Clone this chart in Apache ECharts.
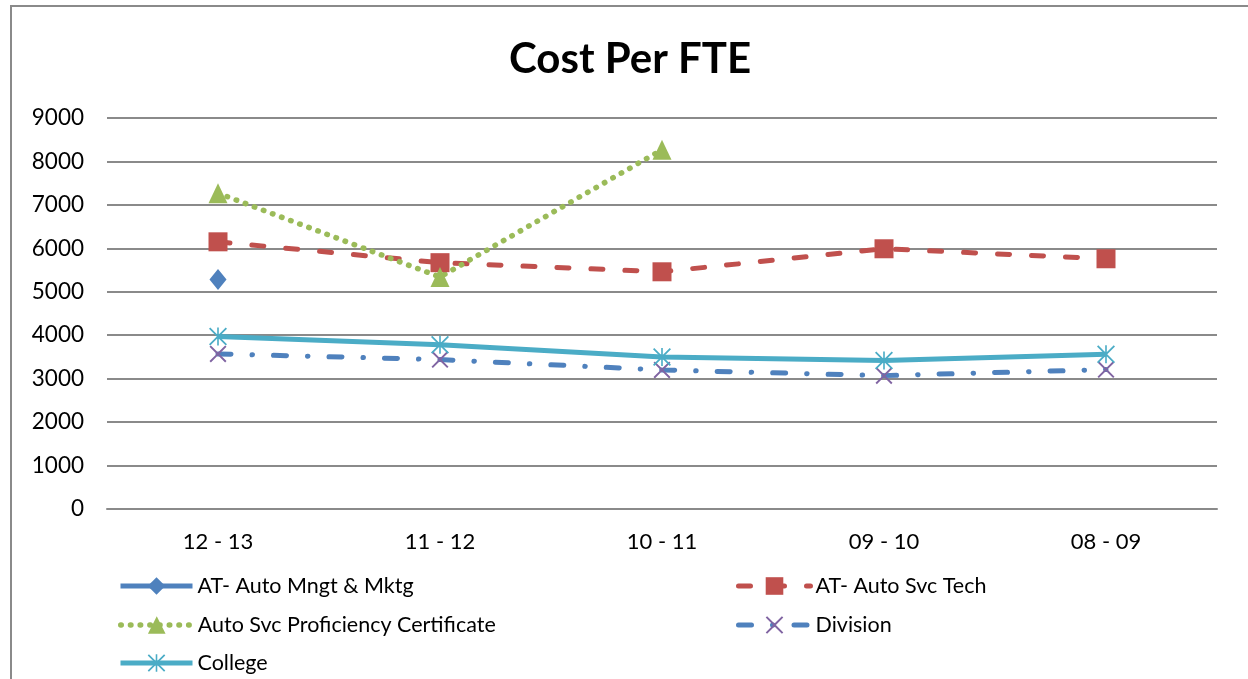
<!DOCTYPE html>
<html>
<head>
<meta charset="utf-8">
<title>Cost Per FTE</title>
<script src="https://cdn.jsdelivr.net/npm/echarts@6/dist/echarts.min.js"></script>
<style>
  html, body { margin: 0; padding: 0; background: #fff; }
  #chart { width: 1248px; height: 679px; }
</style>
</head>
<body>
<div id="chart"></div>
<script>
// data
const categories = ['12 - 13', '11 - 12', '10 - 11', '09 - 10', '08 - 09'];
const mngtMktg = [5280, null, null, null, null];
const svcTech = [6150, 5670, 5460, 5990, 5760];
const proficiency = [7270, 5340, 8270, null, null];
const division = [3570, 3440, 3200, 3070, 3210];
const college = [3970, 3780, 3500, 3420, 3560];
const yMin = 0;
const yMax = 9000;
const yStep = 1000;

const FONT = 'Lato, "Open Sans", sans-serif';

// X cross marker (outline polygon so it fills cleanly)
const crossPath = 'path://M0,0.8 L0.8,0 L5,4.2 L9.2,0 L10,0.8 L5.8,5 L10,9.2 L9.2,10 L5,5.8 L0.8,10 L0,9.2 L4.2,5 Z';
// asterisk marker: X plus vertical bar
const starPath = 'path://M0,0.7 L0.7,0 L5,4.3 L9.3,0 L10,0.7 L5.7,5 L10,9.3 L9.3,10 L5,5.7 L0.7,10 L0,9.3 L4.3,5 Z M4.55,0 L5.45,0 L5.45,10 L4.55,10 Z';

const chart = echarts.init(document.getElementById('chart'));

// one legend per entry so each sits where the original puts it
function legendAt(name, left, top) {
  return {
    left: left,
    top: top,
    padding: 0,
    itemWidth: 72,
    itemHeight: 22,
    lineStyle: { width: 'inherit' },
    textStyle: { fontFamily: FONT, fontSize: 21.5, color: '#000' },
    data: [name]
  };
}

const option = {
  animation: false,
  backgroundColor: '#fff',
  title: {
    text: 'Cost Per FTE',
    left: 504,
    top: 33,
    textStyle: { fontFamily: FONT, fontSize: 42, fontWeight: 'bold', color: '#000' }
  },
  graphic: [
    {
      type: 'rect',
      shape: { x: 11, y: 6, width: 1300, height: 700 },
      style: { fill: 'none', stroke: '#8a8a8a', lineWidth: 2 },
      silent: true
    }
  ],
  legend: [
    legendAt('AT- Auto Mngt & Mktg', 118, 575),
    legendAt('Auto Svc Proficiency Certificate', 118, 614),
    legendAt('College', 118, 652),
    legendAt('AT- Auto Svc Tech', 736, 575),
    legendAt('Division', 736, 614)
  ],
  grid: { left: 107, right: 31, top: 118, bottom: 170 },
  xAxis: {
    type: 'category',
    data: categories,
    boundaryGap: true,
    axisTick: { show: false },
    axisLine: { lineStyle: { color: '#8a8a8a', width: 2 } },
    axisLabel: { fontFamily: FONT, fontSize: 22, color: '#000', margin: 22 }
  },
  yAxis: {
    type: 'value',
    min: yMin,
    max: yMax,
    interval: yStep,
    axisLine: { show: false },
    axisTick: { show: false },
    splitLine: { lineStyle: { color: '#8a8a8a', width: 2 } },
    axisLabel: {
      fontFamily: FONT, fontSize: 22.5, color: '#000', margin: 23,
      formatter: function (v) { return String(v); }
    }
  },
  series: [
    {
      name: 'AT- Auto Mngt & Mktg',
      type: 'line',
      data: mngtMktg,
      symbol: 'diamond',
      symbolSize: [17, 21],
      itemStyle: { color: '#4F81BD' },
      lineStyle: { color: '#4F81BD', width: 5 }
    },
    {
      name: 'AT- Auto Svc Tech',
      type: 'line',
      data: svcTech,
      symbol: 'rect',
      symbolSize: 19,
      itemStyle: { color: '#C0504D' },
      lineStyle: { color: '#C0504D', width: 5, type: [12, 22], cap: 'round' }
    },
    {
      name: 'Auto Svc Proficiency Certificate',
      type: 'line',
      data: proficiency,
      symbol: 'triangle',
      symbolSize: [19, 20],
      itemStyle: { color: '#9BBB59' },
      lineStyle: { color: '#9BBB59', width: 5.5, type: [0.5, 9.2], cap: 'round' }
    },
    {
      name: 'Division',
      type: 'line',
      data: division,
      symbol: crossPath,
      symbolSize: 17,
      itemStyle: { color: '#8064A2' },
      lineStyle: { color: '#4F81BD', width: 5, type: [13, 21, 0.5, 21], cap: 'round' }
    },
    {
      name: 'College',
      type: 'line',
      data: college,
      symbol: starPath,
      symbolSize: 18,
      itemStyle: { color: '#4BACC6' },
      lineStyle: { color: '#4BACC6', width: 5 }
    }
  ]
};

chart.setOption(option);
</script>
</body>
</html>
